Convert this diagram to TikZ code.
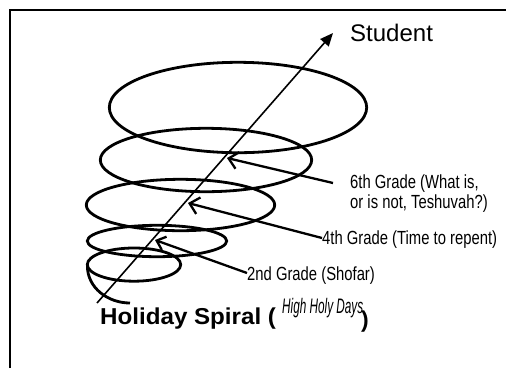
\documentclass[tikz,border=0pt]{standalone}
\usepackage{fontspec}
\setmainfont{Liberation Sans}
\newfontfamily\narrowfont[FakeStretch=0.78]{Liberation Sans}
\usetikzlibrary{arrows.meta}
\tikzset{
  ring/.style={line width=2.8pt},
  axisline/.style={line width=1.6pt,-{Triangle[length=13pt,width=11pt]}},
  gradearrow/.style={line width=2.3pt,-{Straight Barb[length=9pt,width=17pt]}},
  gradelabel/.style={inner sep=0pt,anchor=base west,font=\narrowfont\fontsize{19}{22}\selectfont},
  frameline/.style={line width=2pt},
}
\begin{document}
\begin{tikzpicture}[x=1pt,y=-1pt]
\useasboundingbox (0,0) rectangle (506,368);
% frame
\draw[frameline] (10,368) -- (10,10) -- (506,10);
% spiral rings
\draw[ring] (238,107.5) ellipse (128.7pt and 45.2pt);
\draw[ring] (206,160) ellipse (105.7pt and 31.7pt);
\draw[ring] (180.5,205) ellipse (94.2pt and 25.7pt);
\draw[ring] (157,241) ellipse (69.7pt and 15.7pt);
\draw[ring] (134,264.6) ellipse (46.7pt and 16.6pt);
\draw[ring] (87.4,266) .. controls (87.4,288) and (108,303) .. (130,303);
% axis
\coordinate (axbot) at (97,303);
\coordinate (axtop) at (333,33);
\draw[axisline] (axbot) -- (axtop);
\node[inner sep=0pt,anchor=base west,font=\fontsize{24}{28}\selectfont] (student) at (350,41) {Student};
% labels
\node[gradelabel] (l6a) at (350,188) {6th Grade (What is,};
\node[gradelabel] (l6b) at (350,208) {or is not, Teshuvah?)};
\node[gradelabel] (l4) at (322,244) {4th Grade (Time to repent)};
\node[gradelabel] (l2) at (247,280) {2nd Grade (Shofar)};
\coordinate (s6) at (333,183);
\coordinate (t6) at (227,158);
\coordinate (s4) at (322,238);
\coordinate (t4) at (188,203);
\coordinate (s2) at (247,273);
\coordinate (t2) at (155,240);
\draw[gradearrow] (s6) -- (t6);
\draw[gradearrow] (s4) -- (t4);
\draw[gradearrow,-{Straight Barb[length=8pt,width=14pt]}] (s2) -- (t2);
% title
\node[inner sep=0pt,anchor=base west,font=\bfseries\fontsize{23}{27}\selectfont] (title) at (100,324) {\scalebox{1.05}[1]{Holiday Spiral (}};
\node[inner sep=0pt,anchor=base west,font=\itshape\fontsize{21}{24}\selectfont] (sub) at (282,313) {\scalebox{0.56}[1]{High Holy Days}};
\node[inner sep=0pt,anchor=base west,font=\bfseries\fontsize{23}{27}\selectfont] (close) at (361,327) {)};
\end{tikzpicture}
\end{document}
